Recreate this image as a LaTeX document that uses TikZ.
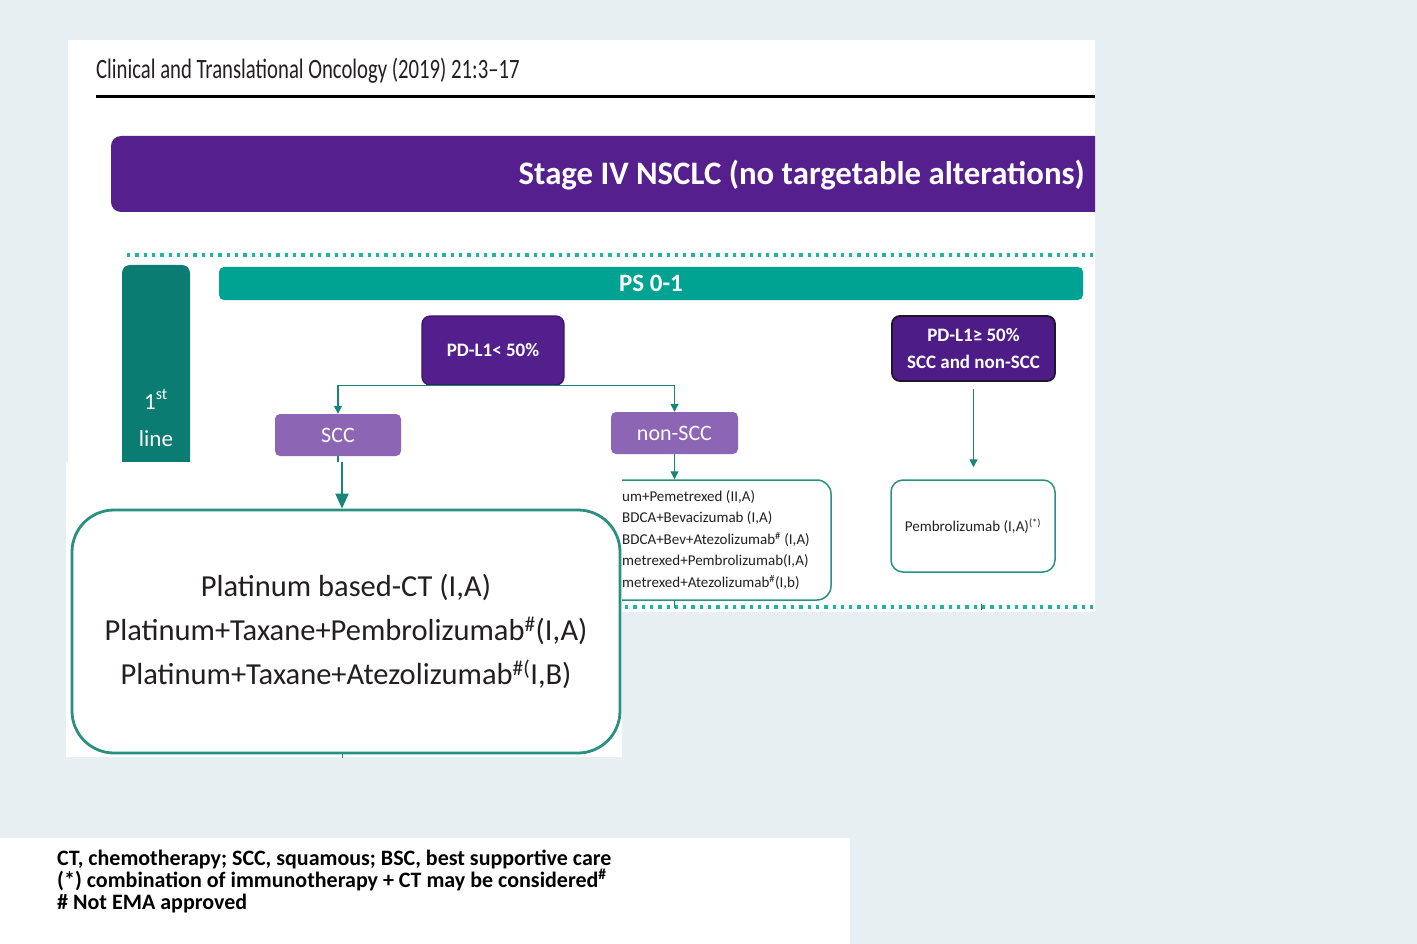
\documentclass[tikz,border=0pt]{standalone}
\usepackage{fontspec}
\setmainfont{Carlito}
\newfontfamily\condfont[FakeStretch=0.74]{Carlito}
\usetikzlibrary{arrows.meta}
\definecolor{bgc}{HTML}{E8EFF2}
\definecolor{banc}{HTML}{55208E}
\definecolor{psc}{HTML}{00A391}
\definecolor{firstc}{HTML}{0A7C71}
\definecolor{pdlc}{HTML}{521F8D}
\definecolor{pdlb}{HTML}{3A1865}
\definecolor{pdhc}{HTML}{4E1C86}
\definecolor{pdhb}{HTML}{22142E}
\definecolor{lavc}{HTML}{8C66B5}
\definecolor{dotc}{HTML}{1CB89E}
\definecolor{connc}{HTML}{178578}
\definecolor{boxc}{HTML}{2A9180}
\definecolor{txtc}{HTML}{231F20}
\begin{document}
\begin{tikzpicture}[x=1pt,y=-1pt,
  purplebox/.style={fill=pdlc, draw=pdlb, line width=1.2pt, rounded corners=8pt, text=white,
    font=\fontsize{19}{27}\selectfont\bfseries, align=center, inner sep=0pt},
  lavbox/.style={fill=lavc, rounded corners=5pt, text=white,
    font=\fontsize{22}{26}\selectfont, inner sep=0pt},
  txbox/.style={draw=boxc, line width=1.5pt, fill=white, rounded corners=14pt, inner sep=0pt,
    text=txtc, font=\fontsize{15}{21.5}\selectfont},
  conn/.style={draw=connc, line width=1.3pt},
  arr/.style={conn, -{Triangle[length=8pt,width=8pt]}},
  bigarr/.style={draw=connc, line width=2pt, -{Triangle[length=15pt,width=13pt]}},
  tick/.style={draw=connc, line width=0.7pt},
  dotline/.style={draw=dotc, line width=3.3pt, dash pattern=on 3.3pt off 5pt},
  foot/.style={anchor=base west, inner sep=0pt, text=black, font=\fontsize{22}{22}\selectfont\bfseries}
]
\useasboundingbox (0,0) rectangle (1417,944);
\fill[bgc] (0,0) rectangle (1417,944);
% panels
\fill[white] (68,40) rectangle (1095,612);
\fill[white] (0,838) rectangle (850,944);
% header
\node[anchor=base west, inner sep=0pt, text=txtc, font=\condfont\fontsize{28}{30}\selectfont] (hdr) at (96,79) {Clinical and Translational Oncology (2019) 21:3–17};
\draw[line width=3pt] (96,97) -- (1095,97);
% banner
\begin{scope}
\clip (0,0) rectangle (1095,944);
\node[fill=banc, rounded corners=10pt, minimum width=1004pt, minimum height=76pt, inner sep=0pt] (banner) at (613,174) {};
\end{scope}
\node[anchor=east, inner sep=0pt, text=white, font=\fontsize{32.8}{36}\selectfont\bfseries] (title) at (1085,175) {Stage IV NSCLC (no targetable alterations)};
% dotted lines
\draw[dotline] (127,255) -- (1095,255);
\draw[dotline] (127,607) -- (1095,607);
% first line
\node[fill=firstc, rounded corners=8pt, minimum width=68pt, minimum height=215pt, inner sep=0pt] (first) at (156,372.5) {};
\node[text=white, align=center, inner sep=0pt, font=\fontsize{23}{37}\selectfont] (firsttxt) at (156,418) {1\textsuperscript{st}\\line};
% PS bar
\node[fill=psc, rounded corners=5pt, minimum width=864pt, minimum height=33pt, inner sep=0pt, text=white, font=\fontsize{25}{28}\selectfont\bfseries] (ps) at (651,283.5) {PS 0-1};
% PD-L1 boxes
\node[purplebox, minimum width=142pt, minimum height=69pt] (pdl) at (493,350.5) {PD-L1< 50\%};
\node[purplebox, fill=pdhc, draw=pdhb, line width=1.8pt, minimum width=163pt, minimum height=65pt] (pdh) at (973.5,348.5) {PD-L1≥ 50\%\\SCC and non-SCC};
% histology
\node[lavbox, minimum width=126pt, minimum height=42pt] (scc) at (338,435) {SCC};
\node[lavbox, minimum width=127pt, minimum height=42pt] (nscc) at (674.5,433) {non-SCC};
% connectors
\draw[arr] (pdl.south) -| (scc.north);
\draw[arr] (pdl.south) -| (nscc.north);
\draw[conn] (scc.south) -- ++(0,8);
% treatment boxes
\node[txbox, minimum width=270pt, minimum height=120pt] (txns) at (696,540) {};
\node[anchor=west, inner sep=0pt, align=left, text=txtc, font=\fontsize{15}{21.5}\selectfont] (txnstext) at (622,540) {um+Pemetrexed (II,A)\\BDCA+Bevacizumab (I,A)\\BDCA+Bev+Atezolizumab\textsuperscript{\#} (I,A)\\metrexed+Pembrolizumab(I,A)\\metrexed+Atezolizumab\textsuperscript{\#}(I,b)};
\node[txbox, rounded corners=12pt, minimum width=164pt, minimum height=92pt] (pembro) at (973,526) {Pembrolizumab (I,A)\textsuperscript{(*)}};
\draw[arr] (nscc.south) -- (txns.north -| nscc.south);
\draw[arr, shorten <=7pt, shorten >=12pt] (pdh.south) -- (pembro.north -| pdh.south);
\draw[tick] (txns.south -| nscc.south) -- ++(0,7);
\draw[tick] ([xshift=8pt,yshift=-31pt]pembro.south) -- ++(0,6);
% overlay panel
\fill[white] (66,462) rectangle (622,757);
\coordinate (sccin) at (342,462);
\node[draw=boxc, line width=2.8pt, fill=white, rounded corners=42pt, minimum width=548pt, minimum height=243pt, inner sep=0pt, align=center, text=txtc, font=\fontsize{30.5}{44}\selectfont] (big) at (346,631.5) {Platinum based-CT (I,A)\\Platinum+Taxane+Pembrolizumab\textsuperscript{\#}(I,A)\\Platinum+Taxane+Atezolizumab\textsuperscript{\#(}I,B)};
\draw[bigarr] (sccin) -- (sccin |- big.north);
\draw[tick] (sccin |- big.south) -- ++(0,4);
% footer
\node[foot] (foot1) at (57,865) {CT, chemotherapy; SCC, squamous; BSC, best supportive care};
\node[foot] (foot2) at (57,887) {(*) combination of immunotherapy + CT may be considered\textsuperscript{\#}};
\node[foot] (foot3) at (57,909) {\# Not EMA approved};
\end{tikzpicture}
\end{document}
